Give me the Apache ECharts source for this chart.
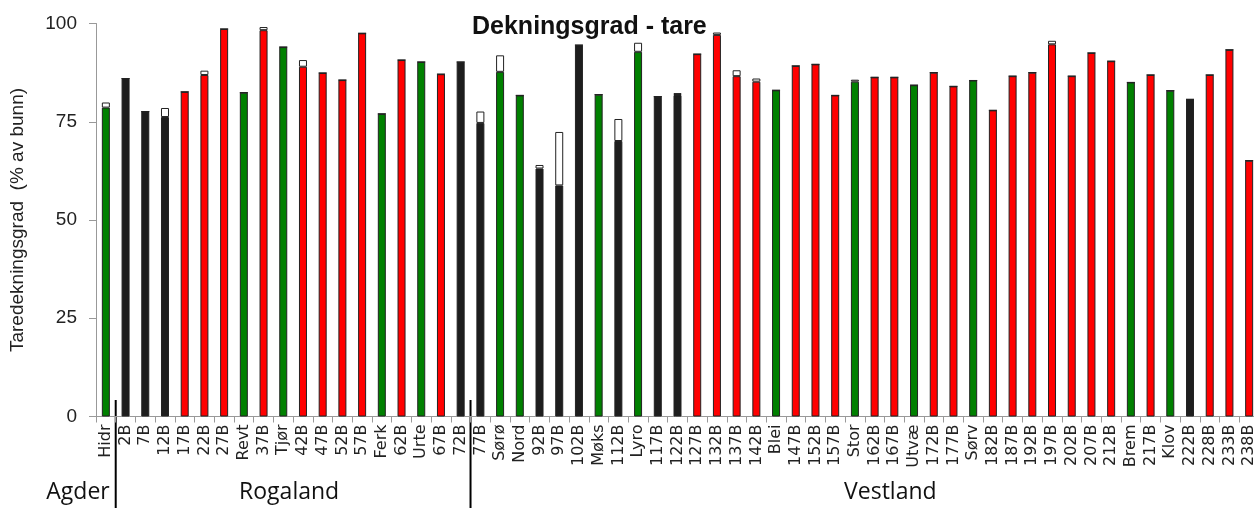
<!DOCTYPE html>
<html>
<head>
<meta charset="utf-8">
<script src="https://cdn.jsdelivr.net/npm/echarts@6/dist/echarts.min.js"></script>
<style>
  html, body { margin: 0; padding: 0; background: #fff; }
  #main { width: 1254px; height: 508px; }
</style>
</head>
<body>
<div id="main"></div>
<script>
// stasjoner (kategorier)
const stations = ['Hidr', '2B', '7B', '12B', '17B', '22B', '27B', 'Revt', '37B', 'Tjør',
  '42B', '47B', '52B', '57B', 'Ferk', '62B', 'Urte', '67B', '72B', '77B',
  'Sørø', 'Nord', '92B', '97B', '102B', 'Møks', '112B', 'Lyro', '117B', '122B',
  '127B', '132B', '137B', '142B', 'Blei', '147B', '152B', '157B', 'Stor', '162B',
  '167B', 'Utvæ', '172B', '177B', 'Sørv', '182B', '187B', '192B', '197B', '202B',
  '207B', '212B', 'Brem', '217B', 'Klov', '222B', '228B', '233B', '238B']

// stasjonstype: g / b / r
const stationType = ['g', 'b', 'b', 'b', 'r', 'r', 'r', 'g', 'r', 'g',
  'r', 'r', 'r', 'r', 'g', 'r', 'g', 'r', 'b', 'b',
  'g', 'g', 'b', 'b', 'b', 'g', 'b', 'g', 'b', 'b',
  'r', 'r', 'r', 'r', 'g', 'r', 'r', 'r', 'g', 'r',
  'r', 'g', 'r', 'r', 'g', 'r', 'r', 'r', 'r', 'r',
  'r', 'r', 'g', 'r', 'g', 'b', 'r', 'r', 'r']

// tarededekning (% av bunn)
const coverage = [78.6, 86.0, 77.6, 76.2, 82.6, 86.9, 98.6, 82.4, 98.3, 94.0,
  89.0, 87.4, 85.6, 97.5, 77.0, 90.7, 90.2, 87.1, 90.2, 74.7,
  87.7, 81.7, 63.1, 58.8, 94.5, 81.9, 70.1, 92.8, 81.4, 81.8,
  92.2, 97.1, 86.6, 85.2, 83.0, 89.2, 89.6, 81.7, 85.2, 86.3,
  86.3, 84.3, 87.5, 84.0, 85.5, 77.9, 86.6, 87.5, 94.7, 86.6,
  92.5, 90.4, 85.0, 86.9, 82.9, 80.7, 86.9, 93.3, 65.1]

// usikker del (hvit)
const extra = [1.3, 0, 0, 2.3, 0, 1.1, 0, 0, 0.8, 0,
  1.7, 0, 0, 0, 0, 0, 0, 0, 0, 2.9,
  4.2, 0, 0.9, 13.6, 0, 0, 5.6, 2.3, 0, 0.5,
  0, 0.6, 1.5, 0.8, 0, 0, 0, 0, 0.5, 0,
  0, 0, 0, 0, 0, 0, 0, 0, 0.9, 0,
  0, 0, 0, 0, 0, 0, 0, 0, 0]

// regioner: navn og første stasjon
const regionNames = ['Agder', 'Rogaland', 'Vestland']
const regionStart = ['Hidr', '2B', '77B']

const yTicks = [0, 25, 50, 75, 100]

const typeColor = { g: '#008000', b: '#1e1e1e', r: '#ff0000' }

const chart = echarts.init(document.getElementById('main'))

const option = {
  animation: false,
  backgroundColor: '#ffffff',
  title: {
    text: 'Dekningsgrad - tare',
    left: 467,
    top: 10,
    textStyle: { fontFamily: 'Liberation Sans', fontSize: 25, fontWeight: 'bold', color: '#111' }
  },
  grid: {
    left: 96,
    top: 23.5,
    bottom: 91.5,
    width: 1163,
    outerBoundsMode: 'none'
  },
  xAxis: {
    type: 'category',
    data: stations,
    axisLine: { lineStyle: { color: '#999', width: 1 } },
    axisTick: { show: true, interval: 0, length: 6, lineStyle: { color: '#999' } },
    axisLabel: {
      interval: 0,
      rotate: 90,
      margin: 8,
      fontFamily: 'DejaVu Sans',
      fontSize: 16,
      color: '#222'
    }
  },
  yAxis: {
    type: 'value',
    min: yTicks[0],
    max: yTicks[yTicks.length - 1],
    interval: 25,
    name: 'Taredekningsgrad  (% av bunn)',
    nameLocation: 'middle',
    nameGap: 69,
    nameTextStyle: { fontFamily: 'Liberation Sans', fontSize: 19, color: '#222' },
    axisLine: { show: true, lineStyle: { color: '#999' } },
    axisTick: { show: true, length: 7, lineStyle: { color: '#999' } },
    splitLine: { show: false },
    axisLabel: { margin: 19, fontFamily: 'Liberation Sans', fontSize: 19, color: '#222' }
  },
  series: [
    {
      name: 'Dekning',
      type: 'bar',
      stack: 'tare',
      barWidth: 8,
      data: coverage.map((v, i) => ({
        value: v,
        itemStyle: { color: typeColor[stationType[i]] }
      })),
      itemStyle: { borderColor: '#222', borderWidth: 1 }
    },
    {
      name: 'Usikker',
      type: 'bar',
      stack: 'tare',
      barWidth: 8,
      data: extra,
      itemStyle: { color: '#ffffff', borderColor: '#222', borderWidth: 1 }
    }
  ]
}

chart.setOption(option)

// skillelinjer og regionnavn under aksen
const px = (name) => chart.convertToPixel({ xAxisIndex: 0 }, name)
const step = px(stations[1]) - px(stations[0])
const graphics = []
const bounds = regionStart.map((s) => px(s) - step / 2)
bounds.push(px(stations[stations.length - 1]) + step / 2)

for (let i = 1; i < regionStart.length; i++) {
  graphics.push({
    type: 'line',
    shape: { x1: bounds[i], y1: 400, x2: bounds[i], y2: 508 },
    style: { stroke: '#000', lineWidth: 2 }
  })
}

const labelX = [
  bounds[1] - 6,
  (bounds[1] + bounds[2]) / 2 - 4,
  px('167B') - 4
]
const labelAlign = ['right', 'center', 'center']
regionNames.forEach((n, i) => {
  graphics.push({
    type: 'text',
    x: labelX[i],
    y: 492,
    style: {
      text: n,
      fontFamily: 'Open Sans',
      fontSize: 23,
      fill: '#111',
      align: labelAlign[i],
      verticalAlign: 'middle'
    }
  })
})

chart.setOption({ graphic: graphics })
</script>
</body>
</html>
